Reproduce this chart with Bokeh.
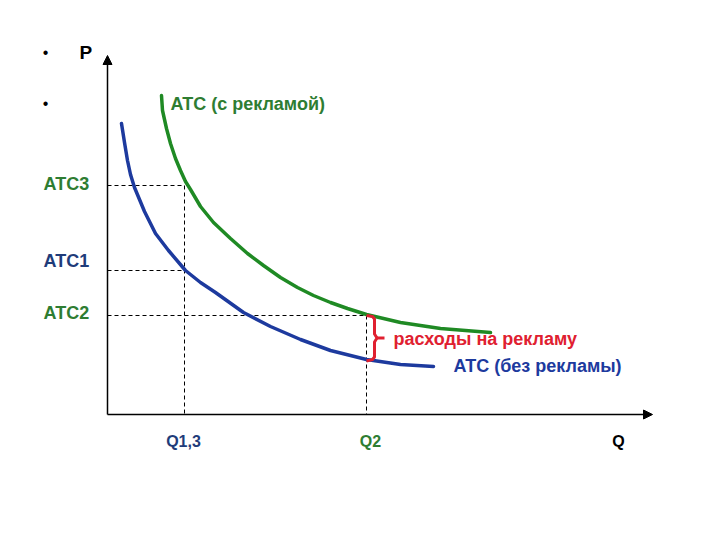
from bokeh.plotting import figure
from bokeh.models import Range1d, Arrow, NormalHead
from bokeh.core.properties import value
from bokeh.embed import file_html
from bokeh.resources import INLINE

# ---- data ----
blue_q = [1.4, 1.7, 2.0, 2.3, 2.7, 3.7, 4.8, 6.1, 7.8, 9.3, 10.8, 13.6, 16.3, 19.3, 22.3, 25.9, 29.3, 32.6]
blue_p = [29.1, 27.2, 25.4, 24.0, 22.7, 20.3, 18.1, 16.4, 14.4, 13.2, 12.2, 10.2, 8.8, 7.5, 6.4, 5.5, 5.0, 4.8]
green_q = [5.4, 5.5, 5.9, 6.3, 6.8, 7.3, 7.8, 8.3, 9.3, 10.6, 12.3, 14.0, 15.6, 17.3, 19.0, 20.6, 22.3, 24.0, 25.9, 29.3, 33.3, 38.3]
green_p = [31.9, 30.4, 28.6, 27.1, 25.6, 24.4, 23.3, 22.5, 20.8, 19.2, 17.6, 16.1, 14.9, 13.7, 12.7, 11.9, 11.2, 10.6, 10.0, 9.2, 8.6, 8.2]
q13 = 7.7
q2 = 25.9
atc3 = 22.9
atc1 = 14.4
atc2 = 9.9
blue_at_q2 = 5.4
q_max = 54.5
p_max = 35.9

FONT = value("Liberation Sans")
GREEN = "#1f8a24"
BLUE = "#1d3a9e"
LGREEN = "#2e7d32"
LBLUE = "#1f3c7a"
RED = "#e02030"

p = figure(width=704, height=524, output_backend="svg", toolbar_location=None,
           x_range=Range1d(-10.7, 59.7), y_range=Range1d(-11.0, 41.4),
           min_border=0, min_border_left=0, min_border_right=0,
           min_border_top=0, min_border_bottom=0)
p.axis.visible = False
p.grid.visible = False
p.outline_line_color = None
p.background_fill_color = "white"

# axes with arrows
p.add_layout(Arrow(end=NormalHead(size=9, fill_color="black", line_color="black"),
                   x_start=0, y_start=0, x_end=0, y_end=p_max, line_width=1.5, line_color="black"))
p.add_layout(Arrow(end=NormalHead(size=9, fill_color="black", line_color="black"),
                   x_start=0, y_start=0, x_end=q_max, y_end=0, line_width=1.5, line_color="black"))

# dashed guide lines
dash = "4 3"
p.segment(x0=[0, 0, 0, q13, q2], y0=[atc3, atc1, atc2, atc3, atc2],
          x1=[q13, q13, q2, q13, q2], y1=[atc3, atc1, atc2, 0, 0],
          line_color="black", line_width=1, line_dash=dash)

# curves
p.line(green_q, green_p, line_color=GREEN, line_width=3.5, line_join="round", line_cap="round")
p.line(blue_q, blue_p, line_color=BLUE, line_width=3.5, line_join="round", line_cap="round")

# red brace
bx = q2 + 0.8
bq = [q2, q2 + 0.6, bx, bx, bx + 0.25, bx, bx, q2 + 0.6, q2]
mid = (atc2 + blue_at_q2) / 2
bp = [atc2, atc2 - 0.1, atc2 - 0.35, mid + 0.4, mid, mid - 0.4, blue_at_q2 + 0.35, blue_at_q2 + 0.1, blue_at_q2 - 0.05]
p.line(bq, bp, line_color=RED, line_width=3, line_join="round")
p.segment(x0=[bx + 0.2], y0=[mid], x1=[bx + 1.0], y1=[mid], line_color=RED, line_width=3)

def txt(x, y, s, color, size="18px", style="bold", align="left"):
    p.text(x=[x], y=[y], text=[s], text_color=color, text_font=FONT,
           text_font_size=size, text_font_style=style, text_align=align,
           text_baseline="middle")

# bullets and P
txt(-6.2, 36.2, "•", "black", "16px", "normal", "center")
txt(-6.2, 31.1, "•", "black", "16px", "normal", "center")
txt(-2.8, 36.2, "P", "black", "19px", "bold")

txt(6.3, 31.1, "ATC (с рекламой)", LGREEN, "18px")
txt(-6.4, 23.1, "ATC3", LGREEN, "18px")
txt(-6.4, 15.4, "ATC1", LBLUE, "18px")
txt(-6.4, 10.2, "ATC2", LGREEN, "18px")
txt(28.6, 7.6, "расходы на рекламу", RED, "18px")
txt(34.6, 4.9, "ATC (без рекламы)", BLUE, "18px")
txt(q13 - 0.1, -2.7, "Q1,3", LBLUE, "16px", "bold", "center")
txt(q2 + 0.4, -2.7, "Q2", LGREEN, "16px", "bold", "center")
txt(51.1, -2.7, "Q", "black", "16px", "bold", "center")

open("out.html", "w").write(file_html(p, INLINE))
